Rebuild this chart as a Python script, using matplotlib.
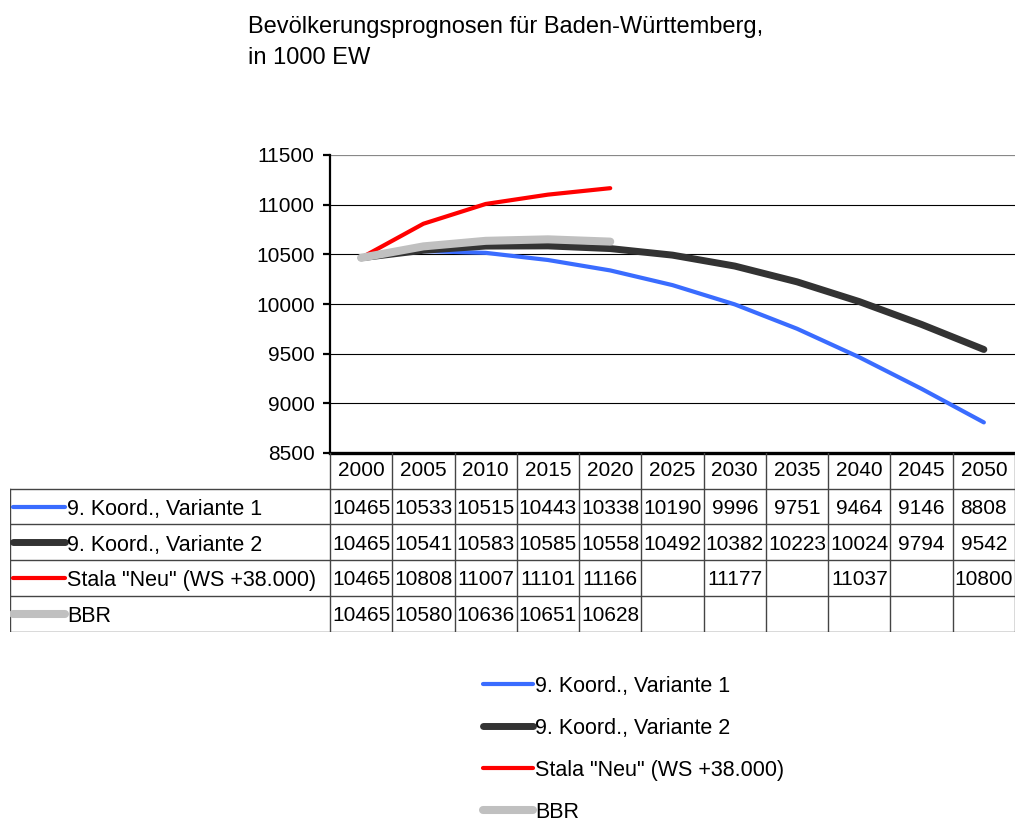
import matplotlib.pyplot as plt
from matplotlib.lines import Line2D
import numpy as np

plt.rcParams['font.family'] = ['Liberation Sans', 'DejaVu Sans']

years = ['2000', '2005', '2010', '2015', '2020', '2025', '2030', '2035', '2040', '2045', '2050']
names = ['9. Koord., Variante 1', '9. Koord., Variante 2', 'Stala "Neu" (WS +38.000)', 'BBR']
var1 = [10465, 10533, 10515, 10443, 10338, 10190, 9996, 9751, 9464, 9146, 8808]
var2 = [10465, 10541, 10583, 10585, 10558, 10492, 10382, 10223, 10024, 9794, 9542]
stala = [10465, 10808, 11007, 11101, 11166, None, 11177, None, 11037, None, 10800]
bbr = [10465, 10580, 10636, 10651, 10628, None, None, None, None, None, None]

colors = ['#3a6cff', '#333333', '#ff0000', '#c0c0c0']
widths = [3.0, 5.0, 3.0, 5.8]
series = [var1, var2, stala, bbr]

W, H = 1015, 818
fig = plt.figure(figsize=(W / 100, H / 100), dpi=100)
fs_num = 15
fs_lab = 15.5

fig.text(248 / W, 1 - 16 / H, 'Bevölkerungsprognosen für Baden-Württemberg,\nin 1000 EW',
         ha='left', va='top', fontsize=17, linespacing=1.5)

# chart area
ax = fig.add_axes([330 / W, 1 - 453 / H, 685 / W, 298 / H])
x = np.arange(len(years))
handles = []
for vals, c, lw, name in zip(series, colors, widths, names):
    y = np.array([np.nan if v is None else v for v in vals], dtype=float)
    ax.plot(x, y, color=c, lw=lw, solid_capstyle='round', solid_joinstyle='round')
    handles.append(Line2D([], [], color=c, lw=lw, solid_capstyle='round', label=name))

ax.set_xlim(-0.5, len(years) - 0.5)
ax.set_ylim(8500, 11500)
ax.set_yticks(np.arange(8500, 11501, 500))
ax.set_xticks([])
for v in np.arange(9000, 11001, 500):
    ax.axhline(v, color='black', lw=0.8, zorder=0)
ax.axhline(11500, color='#888888', lw=1.6, zorder=0)
for s in ['top', 'right']:
    ax.spines[s].set_visible(False)
ax.spines['left'].set_linewidth(1.6)
ax.spines['bottom'].set_linewidth(2.4)
ax.tick_params(axis='y', length=5, width=1.6, labelsize=fs_num, pad=6)

# data table
colw = 685 / 11
xleft = -0.5 - 320 / colw
tb = fig.add_axes([10 / W, 1 - 631.5 / H, 1005 / W, 178.5 / H])
tb.set_xlim(xleft, 10.5)
tb.set_ylim(5, 0)
tb.axis('off')
lc = '#444444'
for r in range(1, 6):
    tb.plot([xleft, 10.5], [r, r], color=lc, lw=1.0)
for k in range(12):
    tb.plot([k - 0.5, k - 0.5], [0, 5], color=lc, lw=1.0)
tb.plot([xleft, xleft], [1, 5], color=lc, lw=1.0)
for i, yr in enumerate(years):
    tb.text(i, 0.5, yr, ha='center', va='center', fontsize=fs_num)
for r, (vals, c, lw, name) in enumerate(zip(series, colors, widths, names), start=1):
    tb.plot([xleft + 3 / colw, xleft + 55 / colw], [r + 0.5, r + 0.5], color=c, lw=lw,
            solid_capstyle='round')
    tb.text(xleft + 57 / colw, r + 0.58, name, ha='left', va='center', fontsize=fs_lab)
    for i, v in enumerate(vals):
        if v is not None:
            tb.text(i, r + 0.55, str(v), ha='center', va='center', fontsize=fs_num)

# legend below
fig.legend(handles=handles, loc='upper left', bbox_to_anchor=(474 / W, 1 - 667 / H),
           frameon=False, fontsize=fs_lab, handlelength=2.35, handletextpad=0.1,
           labelspacing=0.98, borderaxespad=0)

fig.savefig('out.png', dpi=100)
